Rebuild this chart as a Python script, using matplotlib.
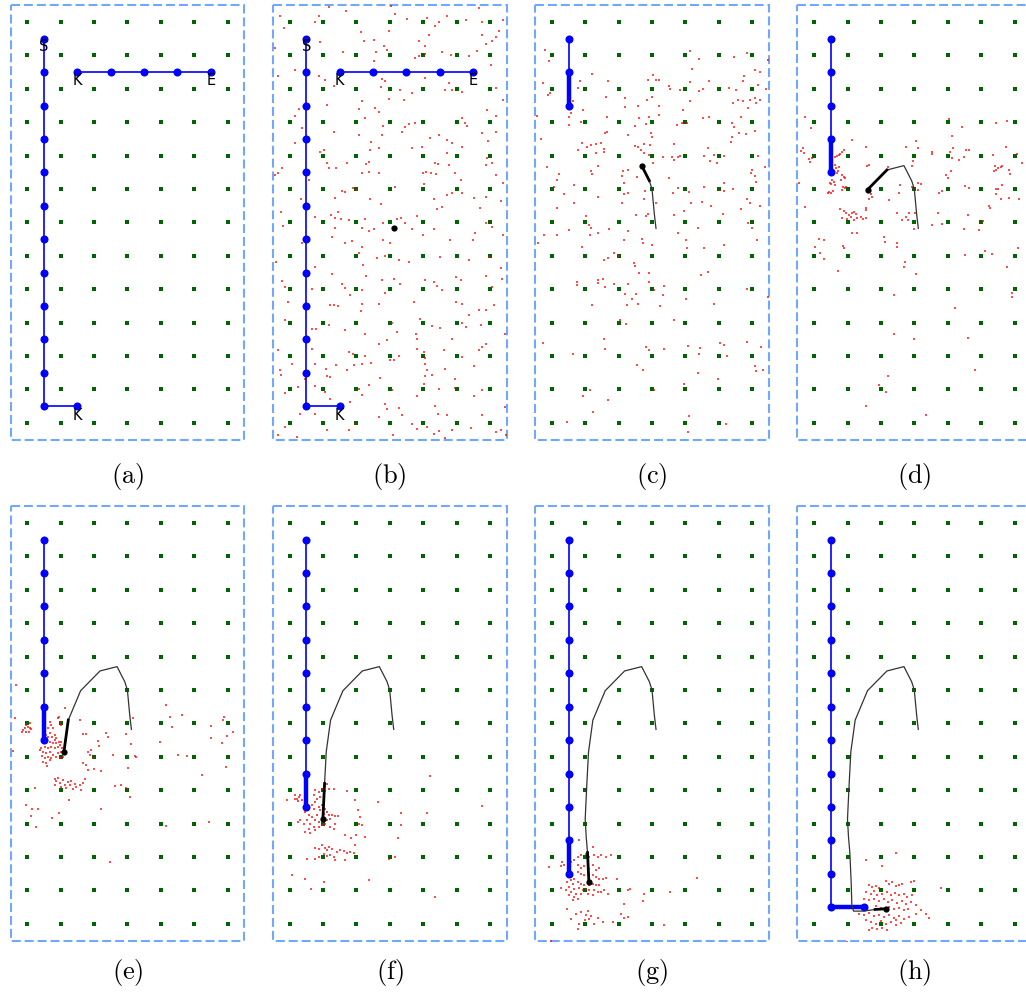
import numpy as np
import matplotlib
matplotlib.use("Agg")
from matplotlib import pyplot as plt
from matplotlib.patches import Rectangle

plt.rcParams['mathtext.fontset'] = 'cm'

# grid of landmarks (7 x 13)
grid_cols = list(range(7))
grid_rows = list(range(13))

# planned path (blue)
path_x = [0.5] * 12 + [1.5]
path_y = [0.5, 1.5, 2.5, 3.5, 4.5, 5.5, 6.5, 7.5, 8.5, 9.5, 10.5, 11.5, 11.5]
branch_x = [1.5, 2.5, 3.5, 4.5, 5.5]
branch_y = [1.5, 1.5, 1.5, 1.5, 1.5]
node_labels = [("S", 0.5, 0.74), ("K", 1.5, 1.74), ("E", 5.5, 1.74), ("K", 1.5, 11.77)]

# estimated trajectory (black)
traj_x = [3.12, 3.07, 3.00, 2.92, 2.69, 2.18, 1.60, 1.23, 1.10, 1.05, 1.00,
          1.03, 1.07, 1.11, 1.13, 1.18, 1.48, 1.83, 2.15]
traj_y = [6.18, 5.75, 5.00, 4.75, 4.30, 4.43, 5.02, 5.90, 6.85, 7.80, 8.86,
          9.40, 9.87, 10.76, 11.44, 11.62, 11.62, 11.57, 11.55]

captions = ["(a)", "(b)", "(c)", "(d)", "(e)", "(f)", "(g)", "(h)"]
blue_nodes = [13, 13, 3, 5, 7, 9, 11, 13]
traj_end = [None, 0, 4, 6, 8, 10, 13, 18]

# particles (red)
p_a = []
p_b = [(-0.28,-0.17),(0.87,-0.19),(1.17,-0.45),(1.69,-0.32),(3.05,-0.47),(3.17,-0.25),(3.52,-0.09),(4.12,-0.12),
       (4.72,-0.19),(5.27,-0.07),(5.67,-0.42),(5.77,0.01),(6.4,-0.07),(0.77,0.01),(4.47,0.01),(-0.15,0.18),
       (2.15,0.31),(2.97,0.28),(4.17,0.38),(4.37,0.13),(5.77,0.38),(6.17,0.45),(6.27,0.28),(0.92,0.6),(2.22,0.58),
       (2.52,0.53),(2.82,0.73),(2.92,0.83),(3.89,0.58),(4.05,0.73),(5.87,0.65),(6.07,0.58),(-0.43,0.78),(1.6,0.91),
       (2.59,0.91),(3.77,1.08),(3.87,1.03),(4.07,0.95),(4.57,0.91),(4.83,0.98),(5.37,1.03),(5.6,0.88),(6.03,1.28),
       (2.52,1.16),(0.15,1.43),(0.87,1.63),(1.05,1.73),(1.32,1.91),(2.77,1.71),(2.87,1.78),(4.07,1.68),(4.77,1.83),
       (4.87,2.03),(4.67,2.03),(5.17,2.11),(6.17,1.98),(6.39,2.33),(-0.33,1.63),(2.75,1.95),(3.32,2.05),(3.67,2.13),
       (3.42,2.33),(2.97,2.31),(2.17,2.38),(1.13,2.48),(2.09,2.61),(2.55,2.58),(2.67,2.68),(0.27,2.61),(5.92,2.63),
       (6.17,2.81),(0.17,2.81),(2.27,2.88),(2.8,3.11),(3.45,3.13),(3.59,3.05),(3.75,3.03),(5.15,2.88),(5.25,3.01),
       (5.32,3.11),(0.37,3.18),(1.34,3.29),(2.07,3.38),(2.77,3.38),(3.37,3.28),(4.2,3.48),(4.47,3.38),(4.72,3.53),
       (4.87,3.61),(5.77,3.33),(5.95,3.56),(6.17,3.28),(0.17,3.61),(2.45,3.58),(3.67,3.78),(3.97,3.73),(5.17,3.73),
       (0.92,3.88),(1.04,3.83),(2.42,3.83),(1.13,4.21),(1.72,4.21),(2.29,4.25),(2.37,4.18),(2.67,3.78),(4.37,4.21),
       (4.45,4.25),(4.72,3.91),(4.77,4.28),(5.92,4.08),(6.07,4.21),(5.87,4.28),(-0.23,4.38),(-0.33,4.53),(-0.43,4.58),
       (1.17,4.38),(1.39,4.38),(2.17,4.53),(2.39,4.48),(2.67,4.51),(3.99,4.51),(4.09,4.48),(4.25,4.53),(4.39,4.55),
       (4.95,4.53),(5.12,4.73),(6.17,4.58),(6.4,4.83),(0.57,4.73),(1.57,5.05),(1.67,5.08),(1.89,4.98),(2.02,5.03),
       (3.15,4.93),(4.02,4.85),(4.87,5.13),(5.15,5.13),(0.35,5.31),(1.37,5.28),(2.42,5.31),(4.32,5.31),(4.72,5.18),
       (5.52,5.28),(5.89,5.23),(6.32,5.35),(0.45,5.45),(-0.25,5.68),(2.75,5.45),(4.42,5.61),(4.57,5.53),(5.69,5.58),
       (0.75,5.83),(1.25,5.78),(1.37,5.88),(1.55,5.91),(1.45,5.68),(1.79,5.93),(2.25,5.91),(3.22,5.91),(3.35,5.88),
       (3.82,5.81),(5.87,6.01),(6.07,6.13),(-0.18,6.11),(1.35,6.18),(2.17,6.18),(2.39,6.25),(2.52,6.21),(2.79,6.01),
       (3.47,6.01),(3.67,6.21),(3.99,6.38),(4.32,6.21),(5.55,6.33),(6.4,6.38),(1.27,6.45),(1.65,6.61),(1.87,6.55),
       (2.17,6.73),(2.79,6.53),(3.02,6.63),(4.82,6.53),(5.49,6.53),(0.37,6.61),(2.09,6.93),(2.19,7.28),(2.62,7.08),
       (2.87,7.01),(3.27,7.13),(3.57,7.18),(4.52,7.03),(5.37,7.13),(5.97,7.03),(6.32,7.38),(-0.41,7.18),(0.77,7.33),
       (1.27,7.55),(2.29,7.61),(2.77,7.73),(3.12,7.68),(3.32,7.83),(4.05,7.71),(4.32,7.78),(4.42,7.91),(4.99,7.63),
       (5.12,7.71),(5.89,7.61),(6.35,7.68),(-0.23,7.75),(-0.13,7.93),(0.67,7.98),(1.57,7.83),(1.67,7.95),(2.17,8.01),
       (1.82,8.18),(2.87,8.11),(4.57,8.01),(6.07,7.93),(-0.03,8.38),(1.22,8.48),(1.32,8.48),(1.45,8.51),(2.17,8.45),
       (2.67,8.45),(3.73,8.38),(4.99,8.38),(5.17,8.45),(5.67,8.61),(5.87,8.61),(6.12,8.48),(5.37,8.78),(2.15,8.65),
       (-0.13,8.91),(0.79,9.18),(1.17,9.08),(1.67,9.21),(2.27,9.33),(3.07,9.01),(3.22,9.28),(3.79,9.33),(3.92,8.88),
       (4.27,9.11),(4.52,9.15),(5.17,9.01),(5.27,9.13),(5.72,9.08),(6.45,9.33),(0.67,9.18),(2.67,9.63),(2.92,9.53),
       (3.82,9.48),(4.87,9.48),(5.87,9.63),(-0.33,9.83),(0.67,9.78),(1.77,9.88),(1.89,9.93),(2.27,10.01),(3.02,10.13),
       (3.12,10.13),(3.27,10.01),(3.82,9.78),(4.02,9.88),(4.05,10.05),(4.62,9.83),(5.17,10.03),(5.67,9.83),(5.77,9.73),
       (0.07,10.25),(0.77,10.23),(1.1,10.38),(1.39,10.28),(1.73,10.41),(1.92,10.28),(2.17,10.23),(2.45,10.21),
       (4.07,10.23),(4.12,10.43),(4.67,10.38),(5.52,10.31),(-0.28,10.43),(-0.25,10.58),(0.45,10.68),(1.12,10.61),
       (1.22,10.63),(2.72,10.65),(4.05,10.61),(4.27,10.58),(4.97,10.68),(0.25,10.93),(0.75,10.91),(2.07,10.98),
       (2.37,10.88),(3.07,11.01),(4.02,10.83),(4.47,10.98),(4.97,10.95),(5.77,11.01),(-0.13,11.11),(1.05,11.08),
       (2.17,11.18),(3.82,11.21),(5.52,11.21),(1.22,11.28),(1.82,11.38),(2.87,11.45),(2.92,11.58),(3.27,11.55),
       (4.37,11.51),(6.45,11.53),(0.32,11.73),(0.77,11.73),(2.67,11.83),(3.37,11.78),(4.45,11.75),(4.72,11.78),
       (5.77,11.78),(-0.13,12.13),(1.97,12.05),(3.67,12.05),(3.82,12.18),(4.12,12.13),(4.32,12.35),(4.47,12.25),
       (4.87,12.23),(5.42,12.15),(6.17,12.28),(6.32,12.23),(-0.33,12.38),(0.22,12.43),(3.1,12.38),(4.67,12.45),
       (6.47,12.38),(1.12,12.23),(1.77,12.21)]
p_c = [(-0.21,0.85),(-0.08,1.18),(4.15,0.88),(4.42,1.11),(5.47,1.05),(5.85,0.93),(6.47,1.15),(4.2,1.41),(1.2,1.55),
       (-0.25,1.83),(-0.05,2.13),(-0.11,2.18),(0.77,1.98),(0.85,1.78),(1.67,1.78),(3.02,1.58),(2.87,1.73),(3.12,1.73),
       (3.22,1.75),(3.52,1.91),(3.55,2.01),(3.85,2.05),(4.15,1.81),(4.42,2.08),(4.52,2.01),(4.72,1.78),(5.32,1.98),
       (5.52,2.03),(5.75,1.61),(5.72,1.78),(6.07,1.45),(6.22,1.51),(6.17,1.88),(6.42,2.01),(5.57,2.33),(5.42,2.43),
       (5.72,2.38),(5.92,2.33),(6.07,2.28),(6.12,2.43),(6.22,2.33),(5.87,2.58),(1.62,2.26),(2.19,2.28),(2.19,2.55),
       (2.57,2.51),(2.85,2.35),(2.99,2.26),(3.22,2.51),(4.14,2.38),(3.92,2.63),(0.62,2.38),(0.57,2.73),(0.52,2.83),
       (0.92,2.63),(0.87,2.98),(0.52,3.08),(-0.43,2.81),(1.65,2.85),(2.62,2.88),(2.92,2.85),(3.2,2.78),(2.82,3.05),
       (2.49,3.11),(3.75,3.08),(3.89,3.01),(4.05,3.03),(4.52,2.88),(4.72,2.83),(5.39,3.03),(5.65,2.85),(5.47,3.15),
       (6.07,3.25),(5.39,3.45),(5.37,3.58),(5.59,3.33),(5.82,3.35),(-0.33,3.51),(1.64,3.28),(1.59,3.33),(2.27,3.38),
       (2.97,3.31),(2.99,3.43),(0.89,3.61),(1.05,3.73),(1.17,3.68),(1.32,3.65),(1.47,3.61),(0.77,3.83),(1.32,3.91),
       (1.55,3.88),(1.57,3.81),(2.49,3.71),(2.57,3.73),(2.75,3.65),(2.67,3.83),(2.75,3.93),(2.92,3.98),(2.95,3.68),
       (3.67,3.65),(3.32,4.03),(3.59,4.05),(3.65,4.13),(3.79,4.03),(3.85,4.01),(4.57,4.01),(4.75,4.15),(4.95,4.21),
       (4.87,3.98),(4.67,3.78),(5.17,4.01),(6.17,4.01),(6.37,4.35),(-0.13,4.33),(1.37,4.31),(1.17,4.45),(1.2,4.55),
       (0.22,4.55),(0.17,4.73),(0.67,4.88),(3.02,4.23),(2.12,4.45),(2.27,4.43),(2.55,4.63),(2.1,4.6),(3.52,4.68),
       (5.95,4.51),(5.99,4.43),(6.07,4.61),(6.12,4.78),(5.17,4.83),(0.07,4.95),(0.37,5.15),(2.17,4.83),(2.15,5.15),
       (2.29,5.13),(2.79,5.05),(3.62,5.11),(3.79,4.98),(4.12,5.08),(4.55,4.93),(5.05,5.03),(5.15,5.05),(5.42,5.01),
       (2.77,5.31),(1.37,5.25),(0.65,5.41),(2.09,5.41),(3.12,5.43),(4.17,5.43),(4.49,5.38),(4.77,5.51),(5.67,5.61),
       (5.85,5.31),(5.92,5.41),(6.22,5.51),(0.17,5.58),(3.95,5.66),(2.52,5.78),(2.82,5.81),(2.89,5.75),(1.02,5.81),
       (5.12,5.75),(3.67,5.78),(1.1,6.08),(1.17,6.18),(1.7,6.21),(2.27,6.25),(0.52,6.23),(1.39,6.31),(1.14,6.38),
       (0.17,6.38),(-0.23,6.38),(-0.41,6.61),(5.87,6.03),(5.99,6.18),(6.15,6.53),(3.77,6.33),(4.39,6.18),(2.15,6.53),
       (2.7,6.51),(2.72,6.61),(2.99,6.68),(4.02,6.53),(4.05,6.78),(4.55,6.78),(5.17,6.68),(0.89,6.75),(1.67,7.08),
       (1.57,7.13),(1.85,6.93),(1.99,7.01),(2.45,7.23),(2.49,7.31),(2.62,7.51),(2.92,7.51),(4.47,7.58),(4.69,7.48),
       (1.37,7.73),(1.52,7.68),(1.39,7.81),(0.75,7.78),(0.75,7.88),(1.85,7.85),(2.29,7.85),(1.6,7.93),(2.92,7.78),
       (3.05,8.01),(3.35,7.91),(3.32,8.18),(2.2,8.13),(2.52,8.15),(2.39,8.28),(2.57,8.45),(2.24,8.48),(3.25,8.51),
       (1.2,8.48),(4.02,8.28),(4.87,8.45),(5.85,7.98),(6.47,8.23),(3.65,8.91),(2.05,8.91),(2.22,9.03),(-0.25,9.61),
       (1.55,9.48),(1.59,9.78),(2.82,9.73),(2.92,9.81),(3.37,9.78),(4.09,9.71),(4.45,9.75),(4.42,9.95),(5.05,9.61),
       (5.15,9.68),(5.25,10.01),(5.85,9.58),(6.25,9.73),(0.62,9.95),(2.55,10.28),(2.72,10.43),(6.09,10.31),(6.32,10.41),
       (6.12,10.45),(4.37,10.51),(4.97,10.68),(3.97,10.83),(1.15,11.01),(3.07,11.01),(0.92,11.21),(1.69,11.31),
       (1.22,11.68),(4.12,11.81),(0.47,11.98),(5.22,12.05),(4.07,12.28)]
p_d = [(-0.28,2.85),(-0.08,3.18),(-0.34,3.78),(-0.38,3.85),(-0.31,3.91),(-0.46,4.81),(-0.28,5.53),(-0.16,4.11),
       (-0.06,4.08),(-0.11,4.18),(0.64,4.03),(0.74,3.98),(0.84,3.88),(0.89,3.83),(0.79,3.95),(0.69,4.01),(0.64,4.28),
       (0.66,4.38),(0.72,4.45),(0.69,4.53),(0.59,4.48),(0.74,4.33),(0.84,4.58),(0.89,4.63),(0.94,4.68),(0.82,4.73),
       (0.86,4.95),(0.92,4.98),(0.96,4.93),(0.84,5.03),(0.54,4.73),(0.49,4.81),(0.59,4.78),(0.52,4.85),(0.46,5.08),
       (0.52,5.13),(0.56,5.05),(0.42,5.11),(0.62,4.88),(0.79,5.61),(0.89,5.65),(0.84,5.88),(0.96,5.73),(1.04,5.78),
       (1.14,5.71),(1.19,5.68),(1.24,5.75),(1.29,5.88),(1.19,5.93),(1.09,5.85),(0.99,5.91),(1.39,5.83),(1.46,5.91),
       (1.54,5.88),(1.56,5.63),(1.54,5.58),(1.64,5.31),(1.74,5.23),(1.69,5.15),(1.14,3.53),(1.54,3.73),(1.59,4.31),
       (1.64,4.28),(1.14,6.33),(1.29,6.31),(0.14,6.51),(0.29,6.53),(0.04,6.73),(0.19,6.91),(0.29,7.11),(0.86,6.71),
       (0.89,6.78),(0.72,7.45),(2.22,4.35),(2.24,5.33),(2.09,6.45),(2.12,6.58),(2.49,6.61),(2.49,6.73),(2.54,5.11),
       (2.56,4.88),(2.49,5.73),(2.64,5.93),(2.74,5.83),(2.82,5.93),(2.84,5.73),(2.76,3.75),(3.04,3.55),(3.12,3.78),
       (2.96,4.15),(2.94,4.31),(2.92,4.93),(3.02,5.73),(2.99,6.21),(3.12,4.81),(3.19,4.85),(3.12,5.03),(3.52,3.88),
       (3.52,3.95),(3.54,6.08),(3.72,5.73),(3.74,5.11),(3.82,5.05),(3.82,6.05),(3.94,4.58),(4.02,4.68),(4.04,2.91),
       (4.14,3.41),(4.16,3.78),(4.06,3.88),(4.14,4.08),(4.09,4.46),(4.34,4.13),(4.44,3.15),(4.49,4.03),(4.54,3.83),
       (4.64,3.83),(4.64,4.98),(4.52,4.91),(4.5,6.21),(4.6,5.78),(4.94,6.23),(5.07,5.95),(4.52,6.98),(5.12,6.85),
       (5.32,6.95),(5.36,3.98),(5.44,3.03),(5.42,4.31),(5.39,4.45),(5.46,4.43),(5.52,4.38),(5.59,4.33),(5.64,4.31),
       (5.44,5.01),(5.52,5.01),(5.46,5.15),(5.59,5.31),(5.24,5.51),(5.26,5.58),(5.74,3.75),(5.79,2.95),(5.84,4.43),
       (5.86,4.55),(5.64,4.88),(5.84,5.28),(6.07,3.95),(6.22,4.23),(6.14,5.31),(6.09,6.78),(5.79,7.33),(5.92,8.11),
       (5.94,8.23),(4.22,8.55),(4.6,9.45),(4.82,10.43),(2.72,7.18),(2.69,7.33),(3.04,7.55),(2.38,8.18),(2.39,9.33),
       (2.99,9.48),(2.22,10.61),(1.94,10.88),(2.16,11.08),(1.56,11.51),(3.36,11.78)]
p_e = [(-0.13,6.2),(-0.08,6.15),(-0.03,6.05),(0.02,6.1),(0.07,6.13),(0.12,6.17),(0.05,6.25),(-0.05,6.27),(0.09,6.0),
       (-0.15,6.25),(0.67,5.95),(0.72,6.05),(0.62,6.15),(0.77,6.15),(0.92,5.85),(0.97,5.95),(1.02,6.05),(0.95,5.8),
       (1.12,5.55),(0.67,6.3),(0.75,6.4),(0.82,6.35),(0.87,6.45),(0.62,6.4),(0.57,6.55),(0.67,6.55),(0.77,6.6),
       (0.87,6.6),(0.97,6.65),(1.02,6.55),(0.92,6.7),(0.82,6.75),(0.72,6.7),(0.62,6.75),(0.52,6.7),(0.42,6.75),
       (0.37,6.8),(0.47,6.85),(0.57,6.9),(0.67,6.85),(0.77,6.95),(0.87,7.0),(0.97,7.03),(1.07,7.0),(0.92,6.9),
       (0.62,7.0),(0.52,7.05),(0.47,7.15),(0.57,7.2),(0.67,7.1),(0.72,7.05),(0.45,6.97),(1.05,6.75),(1.09,6.85),
       (1.02,6.85),(0.82,6.5),(0.95,6.55),(0.55,6.35),(0.59,7.27),(0.52,6.35),(0.82,7.65),(0.92,7.63),(0.87,7.73),
       (0.97,7.77),(1.07,7.7),(1.12,7.83),(1.22,7.75),(1.27,7.85),(1.32,7.73),(1.42,7.8),(1.47,7.9),(1.17,7.93),
       (1.02,7.9),(0.82,7.83),(1.57,7.83),(1.62,8.0),(1.67,7.77),(1.72,7.65),(1.37,7.97),(1.82,6.85),(1.87,6.95),
       (1.92,6.8),(1.97,7.05),(1.67,7.2),(1.77,7.25),(1.82,7.4),(1.99,7.37),(2.22,7.43),(2.12,6.53),(2.15,6.67),
       (1.59,5.9),(1.67,6.33),(1.75,6.33),(2.35,6.3),(2.42,6.4),(2.95,6.33),(2.57,6.95),(3.12,6.63),(3.02,7.35),
       (3.25,7.0),(2.62,7.87),(2.82,7.85),(2.95,7.93),(3.09,8.2),(2.22,8.57),(1.25,8.3),(-0.05,8.43),(0.15,8.55),
       (0.32,8.57),(0.12,8.77),(0.25,9.1),(0.75,8.83),(0.95,8.67),(0.24,7.93),(2.49,10.15),(-0.33,4.85),(-0.43,6.83),
       (-0.38,5.83),(3.17,5.83),(4.17,5.45),(4.29,5.8),(4.62,5.75),(4.35,6.1),(3.97,6.57),(4.52,6.95),(4.79,6.97),
       (5.22,7.55),(5.49,6.07),(5.49,6.43),(5.82,6.6),(5.85,5.9),(5.89,5.8),(5.97,6.37),(6.17,6.27),(5.95,7.3),
       (4.17,9.07),(5.45,8.95),(3.22,6.97)]
p_f = [(0.17,8.15),(0.22,8.25),(0.27,8.2),(0.32,8.13),(0.25,8.33),(0.15,8.27),(-0.08,8.3),(0.37,8.3),(0.77,8.0),
       (0.87,8.05),(0.97,7.97),(1.07,8.03),(1.17,7.95),(1.32,7.97),(1.12,7.8),(0.72,8.15),(0.82,8.25),(0.92,8.2),
       (0.77,8.35),(0.67,8.45),(0.72,8.55),(0.87,8.5),(0.97,8.45),(1.07,8.55),(1.12,8.65),(1.17,8.73),(1.27,8.75),
       (1.37,8.77),(1.45,8.77),(1.22,8.85),(1.12,8.9),(1.07,9.0),(0.87,8.95),(0.77,8.9),(0.67,8.8),(0.57,8.75),
       (0.52,8.9),(0.62,9.0),(0.72,9.1),(0.57,9.15),(0.47,9.25),(0.62,9.27),(0.77,9.2),(0.87,9.1),(0.97,9.05),
       (1.22,9.1),(1.32,9.15),(1.37,9.0),(0.42,9.0),(0.32,8.9),(0.25,8.95),(0.45,8.65),(0.55,8.6),(1.02,8.7),
       (0.92,8.6),(0.82,8.75),(1.72,8.03),(1.97,8.3),(2.05,8.6),(2.12,8.8),(2.07,9.0),(2.17,9.05),(2.25,9.4),
       (1.99,9.35),(1.85,9.43),(1.65,9.33),(1.97,9.65),(1.92,9.87),(2.65,8.35),(3.35,8.67),(3.35,9.05),(3.25,9.43),
       (4.12,8.67),(4.2,7.58),(5.75,8.48),(3.17,10.0),(2.97,10.07),(0.07,10.55),(0.45,10.67),(0.65,10.95),(1.02,10.75),
       (2.39,10.7),(4.37,11.2),(0.52,10.05),(0.75,10.07),(0.77,9.73),(0.87,9.77),(0.97,9.65),(1.05,9.73),(1.12,9.8),
       (1.17,9.7),(1.27,9.77),(1.02,9.9),(1.12,9.97),(1.22,9.93),(1.32,10.0),(1.42,9.85),(1.52,9.8),(1.62,9.83),
       (1.72,9.87),(0.87,10.0),(1.35,10.1),(1.67,10.1),(1.82,9.85)]
p_g = [(0.77,10.0),(0.87,9.95),(1.02,9.9),(1.12,10.0),(1.22,9.7),(1.27,9.95),(1.37,10.0),(1.47,9.95),(1.62,10.0),
       (1.77,9.93),(0.67,10.1),(0.32,10.15),(0.37,10.23),(0.57,10.15),(0.27,10.27),(-0.08,10.3),(0.82,9.5),
       (0.77,10.25),(0.87,10.33),(0.97,10.27),(1.12,10.35),(1.22,10.25),(1.32,10.4),(1.42,10.33),(0.77,10.45),
       (0.87,10.5),(0.97,10.55),(1.12,10.55),(1.22,10.55),(1.32,10.6),(1.42,10.65),(1.52,10.65),(1.62,10.63),
       (0.67,10.65),(0.57,10.7),(0.47,10.75),(0.62,10.8),(0.77,10.75),(0.87,10.8),(0.97,10.83),(1.12,10.85),
       (1.22,10.8),(1.32,10.85),(1.42,10.83),(0.52,10.9),(0.67,10.95),(0.82,10.93),(0.92,11.0),(1.02,10.97),
       (1.12,11.0),(1.27,11.0),(1.37,11.05),(0.27,10.93),(0.42,11.0),(0.57,11.05),(0.72,11.1),(0.87,11.1),
       (0.67,11.2),(0.77,11.25),(0.62,11.3),(0.52,11.15),(1.07,11.1),(1.22,11.15),(1.47,11.05),(1.57,11.0),
       (1.67,11.1),(1.95,10.65),(2.27,11.0),(2.35,10.95),(2.17,11.4),(2.77,11.1),(2.72,11.33),(3.55,11.05),
       (4.35,10.63),(0.72,11.7),(0.87,11.65),(1.02,11.73),(1.07,11.63),(1.17,11.77),(0.99,11.9),(1.12,11.87),
       (1.27,12.0),(1.37,11.83),(1.52,11.95),(0.82,12.0),(0.77,12.15),(0.47,11.55),(0.57,11.85),(1.82,11.95),
       (2.07,11.7),(2.17,11.83),(2.27,11.8),(3.37,12.05),(-0.03,12.5)]
p_h = [(1.64,10.85),(1.74,10.9),(1.84,10.87),(1.94,10.93),(2.14,10.73),(2.24,10.8),(2.34,10.75),(2.44,10.87),
       (2.54,10.83),(2.64,10.8),(2.89,10.75),(2.99,10.73),(3.79,10.93),(2.44,9.87),(1.56,10.1),(2.02,10.27),
       (1.54,11.05),(1.69,11.1),(1.79,11.03),(1.89,11.15),(2.04,11.1),(2.19,11.05),(2.29,11.13),(2.42,11.07),
       (2.54,11.15),(2.69,11.1),(2.79,11.2),(2.94,11.15),(1.49,11.25),(1.64,11.3),(1.79,11.25),(1.94,11.33),
       (2.09,11.27),(2.22,11.35),(2.34,11.3),(2.49,11.37),(2.64,11.33),(2.76,11.4),(2.89,11.35),(3.06,11.45),
       (1.39,11.5),(1.84,11.47),(1.99,11.53),(2.24,11.5),(2.39,11.57),(2.54,11.53),(2.69,11.6),(2.82,11.55),
       (3.19,11.6),(3.34,11.7),(3.44,11.83),(1.34,11.7),(1.49,11.73),(1.64,11.67),(1.79,11.77),(1.94,11.73),
       (2.09,11.8),(2.24,11.73),(2.39,11.83),(2.54,11.77),(2.69,11.85),(2.84,11.8),(3.04,11.7),(1.54,11.9),
       (1.69,11.95),(1.84,12.0),(1.99,11.93),(2.14,12.0),(2.29,11.95),(2.44,12.03),(2.59,11.97),(1.74,12.13),
       (1.89,12.17),(2.04,12.13),(2.19,12.2),(1.64,12.2),(2.44,11.9),(0.99,12.53)]
particles = [p_a, p_b, p_c, p_d, p_e, p_f, p_g, p_h]

fig = plt.figure(figsize=(10.26, 9.98), dpi=100)
W, H = 1026.0, 998.0
gx, gy = np.meshgrid(grid_cols, grid_rows)

for i in range(8):
    row, col = divmod(i, 4)
    left = 10.5 + col * 262.3
    top = 5.3 if row == 0 else 506.3
    ax = fig.add_axes([left / W, 1 - (top + 434.2) / H, 233.8 / W, 434.2 / H])
    ax.set_xlim(-0.5, 6.5)
    ax.set_ylim(12.5, -0.5)
    ax.axis('off')
    ax.add_patch(Rectangle((-0.5, -0.5), 7, 13, fill=False, ec='#70a8ff', lw=1.5,
                           ls=(0, (4.3, 1.9)), clip_on=False, zorder=1))
    ax.plot(gx.ravel(), gy.ravel(), 's', color='#006400', ms=2.6, mew=0, zorder=2)

    pts = np.array(particles[i]) if particles[i] else np.zeros((0, 2))
    if len(pts):
        ax.scatter(pts[:, 0], pts[:, 1], s=1.3, marker='s', color='red', alpha=0.7, lw=0, zorder=3)

    n = blue_nodes[i]
    ax.plot(path_x[:n], path_y[:n], '-', color='blue', lw=1.2, zorder=4)
    if i >= 2:
        ax.plot(path_x[n - 2:n], path_y[n - 2:n], '-', color='blue', lw=3.2, zorder=4)
    ax.plot(path_x[:n], path_y[:n], 'o', color='blue', ms=5.8, mew=0, zorder=5)
    if i < 2:
        ax.plot(branch_x, branch_y, '-o', color='blue', lw=1.2, ms=5.8, mew=0, zorder=4)
        for lab, lx, ly in node_labels:
            ax.text(lx, ly, lab, ha='center', va='center', fontsize=10.5, color='black', zorder=6)

    e = traj_end[i]
    if e is not None:
        if e > 0:
            ax.plot(traj_x[:e + 1], traj_y[:e + 1], '-', color='#333333', lw=0.9, zorder=6)
            ax.plot(traj_x[e - 1:e + 1], traj_y[e - 1:e + 1], '-', color='black', lw=2.0, zorder=6)
        ax.plot(traj_x[e], traj_y[e], 'o', color='black', ms=4.5, mew=0, zorder=7)

    cy = 476 if row == 0 else 972
    fig.text((left + 116.9) / W, 1 - cy / H, r'$\mathrm{' + captions[i] + '}$',
             ha='center', va='center', fontsize=19)

plt.savefig('out.png', dpi=100)
